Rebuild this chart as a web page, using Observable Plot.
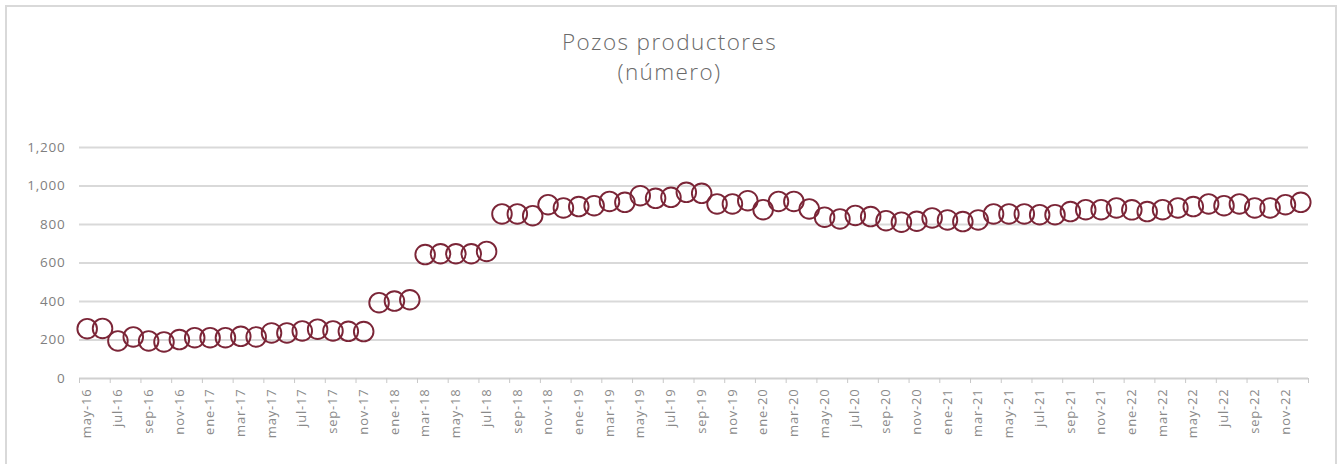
<!DOCTYPE html>
<html>
<head>
<meta charset="utf-8">
<script src="https://cdn.jsdelivr.net/npm/d3@7"></script>
<script src="https://cdn.jsdelivr.net/npm/@observablehq/plot@0.6"></script>
<style>
  html, body { margin: 0; padding: 0; background: #fff; }
  body { position: relative; width: 1339px; height: 464px; overflow: hidden; font-family: "Open Sans", sans-serif; }
  #frame { position: absolute; left: 5px; top: 5px; width: 1332px; height: 480px; border: 2px solid #d9d9d9; box-sizing: border-box; }
  #title { position: absolute; left: 0; top: 27px; width: 1339px; text-align: center; color: #6a6a6a; font-size: 22.5px; line-height: 30px; font-weight: 300; letter-spacing: 1.4px; }
  #chart { position: absolute; left: 0; top: 100px; }
  #chart svg text { letter-spacing: 0.8px; }
</style>
</head>
<body>
<div id="frame"></div>
<div id="title">Pozos productores<br>(número)</div>
<div id="chart"></div>
<script>
const months = [
  "may-16","jun-16","jul-16","ago-16","sep-16","oct-16","nov-16","dic-16",
  "ene-17","feb-17","mar-17","abr-17","may-17","jun-17","jul-17","ago-17","sep-17","oct-17","nov-17","dic-17",
  "ene-18","feb-18","mar-18","abr-18","may-18","jun-18","jul-18","ago-18","sep-18","oct-18","nov-18","dic-18",
  "ene-19","feb-19","mar-19","abr-19","may-19","jun-19","jul-19","ago-19","sep-19","oct-19","nov-19","dic-19",
  "ene-20","feb-20","mar-20","abr-20","may-20","jun-20","jul-20","ago-20","sep-20","oct-20","nov-20","dic-20",
  "ene-21","feb-21","mar-21","abr-21","may-21","jun-21","jul-21","ago-21","sep-21","oct-21","nov-21","dic-21",
  "ene-22","feb-22","mar-22","abr-22","may-22","jun-22","jul-22","ago-22","sep-22","oct-22","nov-22","dic-22"
];
const pozos = [
  259, 260, 195, 216, 195, 190, 202, 212,
  212, 212, 219, 216, 237, 237, 247, 256, 247, 245, 244, 394,
  402, 409, 644, 648, 648, 648, 660, 855, 855, 846, 903, 886,
  893, 898, 920, 915, 950, 936, 941, 967, 962, 907, 907, 924,
  877, 920, 920, 881, 838, 829, 847, 841, 820, 812, 817, 834,
  824, 815, 824, 855, 855, 855, 851, 851, 867, 877, 877, 886,
  876, 867, 877, 886, 893, 907, 898, 907, 886, 886, 903, 915
];
const yTicks = [0, 200, 400, 600, 800, 1000, 1200];
const xTickLabels = months.filter((d, i) => i % 2 === 0);

const data = months.map((m, i) => ({mes: m, valor: pozos[i]}));

const W = 1339, H = 364, ML = 79, MR = 31;
const bw = (W - ML - MR) / months.length;

const chart = Plot.plot({
  width: W,
  height: H,
  marginLeft: ML,
  marginRight: MR,
  marginTop: 47,
  marginBottom: 86,
  style: {fontFamily: "'Open Sans', sans-serif", background: "transparent"},
  x: {type: "band", domain: months, padding: 0, round: false, axis: null, label: null},
  y: {domain: [0, 1200], axis: null, label: null},
  marks: [
    Plot.ruleY(yTicks.filter(d => d > 0), {stroke: "#d9d9d9", strokeWidth: 2}),
    Plot.ruleY([0], {stroke: "#d0d0d0", strokeWidth: 2}),
    Plot.axisY({ticks: yTicks, tickSize: 0, tickPadding: 14, tickFormat: d3.format(","), fontSize: 13.5, fill: "#7f7f7f", label: null}),
    Plot.axisX({ticks: xTickLabels, tickSize: 0, tickPadding: 10, tickRotate: -90, fontSize: 13, fill: "#8a8a8a", label: null}),
    Plot.axisX({ticks: xTickLabels, tickSize: 5, tickFormat: () => "", dx: -bw / 2, stroke: "#c8c8c8", label: null}),
    Plot.axisX({ticks: months.slice(-1), tickSize: 5, tickFormat: () => "", dx: bw / 2, stroke: "#c8c8c8", label: null}),
    Plot.dot(data, {x: "mes", y: "valor", r: 9.8, stroke: "#7b2537", strokeWidth: 1.9, fill: "none"})
  ]
});

document.getElementById("chart").append(chart);
</script>
</body>
</html>
